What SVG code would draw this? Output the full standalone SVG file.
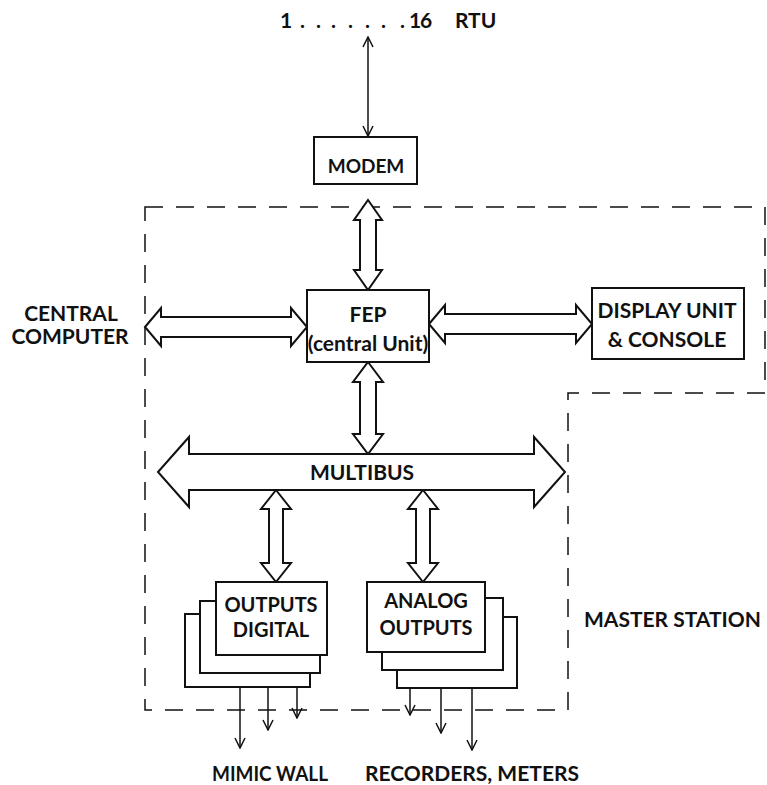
<svg xmlns="http://www.w3.org/2000/svg" width="767" height="785" viewBox="0 0 767 785">
<defs>
<style>
.box{fill:#fff;stroke:#111;stroke-width:2}
.harrow{fill:#fff;stroke:#111;stroke-width:2;stroke-linejoin:miter}
.thin{fill:none;stroke:#111;stroke-width:1.5}
.dash{fill:none;stroke:#111;stroke-width:1.5;stroke-dasharray:18 13}
.t{font-family:Lato,"Open Sans","Liberation Sans",sans-serif;font-weight:700;fill:#111;font-size:21px}
.c{text-anchor:middle}
</style>
<marker id="open" viewBox="0 0 12 12" refX="11" refY="6" markerWidth="12" markerHeight="12" markerUnits="userSpaceOnUse" orient="auto-start-reverse">
<path d="M1,1 L11,6 L1,11" fill="none" stroke="#111" stroke-width="1.5"/>
</marker>
</defs>
<rect width="767" height="785" fill="#fff"/>
<g id="boundary">
<path class="dash" d="M145,207 H765 V393 H568 V710 H145 Z"/>
</g>
<g id="connectors">
<line class="thin" x1="368" y1="37" x2="368" y2="136" marker-start="url(#open)" marker-end="url(#open)"/>
<path class="harrow" d="M368,200 L382,220 L376,220 L376,270 L382,270 L368,290 L354,270 L360,270 L360,220 L354,220 Z"/>
<path class="harrow" d="M368,362 L383,382 L376,382 L376,434 L383,434 L368,454 L353,434 L360,434 L360,382 L353,382 Z"/>
<path class="harrow" d="M145,327 L161,308 L161,317 L291,317 L291,308 L307,327 L291,346 L291,337 L161,337 L161,346 Z"/>
<path class="harrow" d="M429,324 L445,305 L445,314 L576,314 L576,305 L592,324 L576,343 L576,334 L445,334 L445,343 Z"/>
<path class="harrow" d="M276,490 L291,509 L283,509 L283,563 L291,563 L276,582 L261,563 L269,563 L269,509 L261,509 Z"/>
<path class="harrow" d="M423,490 L438,509 L430,509 L430,563 L438,563 L423,582 L408,563 L416,563 L416,509 L408,509 Z"/>
<line class="thin" x1="240" y1="687" x2="240" y2="748" marker-end="url(#open)"/>
<line class="thin" x1="268" y1="673" x2="268" y2="730" marker-end="url(#open)"/>
<line class="thin" x1="297" y1="655" x2="297" y2="718" marker-end="url(#open)"/>
<line class="thin" x1="410" y1="652" x2="410" y2="715" marker-end="url(#open)"/>
<line class="thin" x1="441" y1="670" x2="441" y2="733" marker-end="url(#open)"/>
<line class="thin" x1="472" y1="688" x2="472" y2="750" marker-end="url(#open)"/>
</g>
<g id="rtu">
<text class="t" x="280 300 316 331 348 365 381 400 409 420" y="28">1.......16</text>
<text class="t" x="455" y="28">RTU</text>
</g>
<g id="modem">
<rect class="box" x="314" y="137" width="103" height="47"/>
<text class="t c" x="366" y="173" style="font-size:19px">MODEM</text>
</g>
<g id="fep">
<rect class="box" x="307" y="290" width="122" height="72"/>
<text class="t c" x="368" y="322">FEP</text>
<text class="t c" x="368" y="351">(central Unit)</text>
</g>
<g id="display">
<rect class="box" x="592" y="288" width="152" height="71"/>
<text class="t c" x="667" y="318">DISPLAY UNIT</text>
<text class="t c" x="667" y="347">&amp; CONSOLE</text>
</g>
<g id="central-computer">
<text class="t c" x="71" y="321">CENTRAL</text>
<text class="t c" x="70" y="344">COMPUTER</text>
</g>
<g id="multibus">
<path class="harrow" d="M158,472 L189,437 L189,454 L534,454 L534,437 L565,472 L534,507 L534,490 L189,490 L189,507 Z"/>
<text class="t c" x="362" y="480">MULTIBUS</text>
</g>
<g id="digital-outputs">
<rect class="box" x="185" y="614" width="125" height="73"/>
<rect class="box" x="200" y="601" width="120" height="72"/>
<rect class="box" x="216" y="582" width="111" height="73"/>
<text class="t c" x="271" y="612" style="font-size:20px">OUTPUTS</text>
<text class="t c" x="271" y="637" style="font-size:20px">DIGITAL</text>
</g>
<g id="analog-outputs">
<rect class="box" x="397" y="617" width="120" height="71"/>
<rect class="box" x="382" y="598" width="121" height="72"/>
<rect class="box" x="367" y="582" width="118" height="70"/>
<text class="t c" x="426" y="608" style="font-size:20px">ANALOG</text>
<text class="t c" x="426" y="635" style="font-size:20px">OUTPUTS</text>
</g>
<g id="master-station">
<text class="t" x="584" y="627">MASTER STATION</text>
</g>
<g id="mimic-wall">
<text class="t" x="212" y="781" textLength="116" lengthAdjust="spacingAndGlyphs">MIMIC WALL</text>
</g>
<g id="recorders">
<text class="t" x="365" y="781">RECORDERS, METERS</text>
</g>
</svg>
